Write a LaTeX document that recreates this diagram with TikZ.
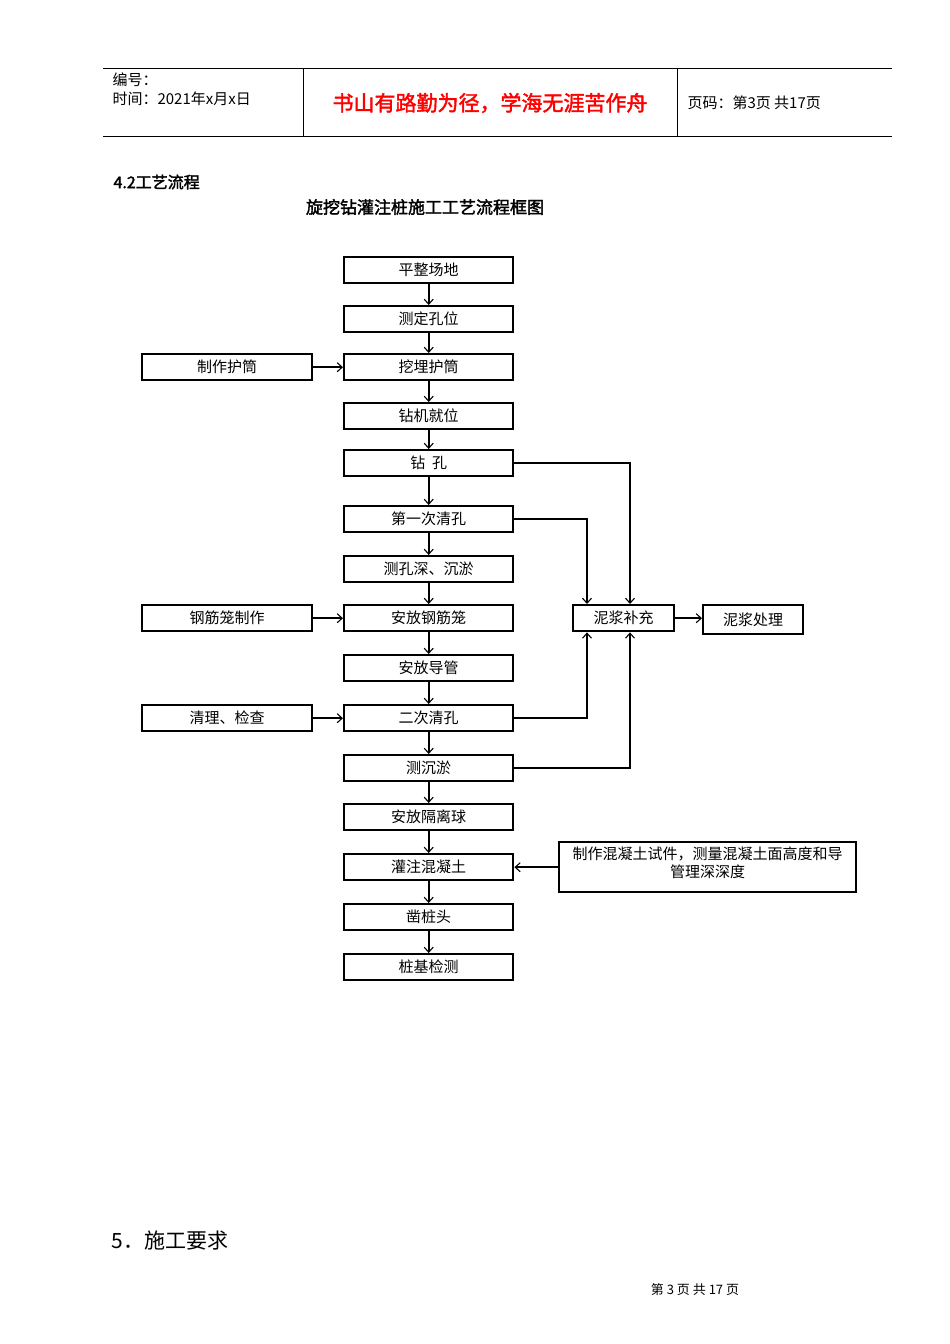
\documentclass[tikz,border=0pt]{standalone}
\usepackage{fontspec}
\setmainfont{Liberation Sans}
\newfontfamily\cjk{Noto Sans CJK SC}
\newfontfamily\cjkb{Noto Sans CJK SC}[FakeBold=2]
\usetikzlibrary{arrows.meta}
\begin{document}
\begin{tikzpicture}[x=1pt,y=-1pt,
  box/.style={draw,line width=2.4pt,minimum height=26pt,inner sep=0pt,font=\cjk\fontsize{15}{16}\selectfont,anchor=north west},
  mainbox/.style={box,minimum width=169pt},
  sidebox/.style={box,minimum width=170pt},
  arr/.style={line width=2.2pt,-{Straight Barb[length=5pt,width=9pt,line width=1.1pt]}}]
\useasboundingbox (0,0) rectangle (950,1344);
% header
\draw[line width=0.8pt] (103,68) -- (892,68) (103,136) -- (892,136) (303,68) -- (303,136) (677,68) -- (677,136);
\node[anchor=west,font=\cjk\fontsize{15}{17}\selectfont] at (109,80) {编号：};
\node[anchor=west,font=\cjk\fontsize{15}{17}\selectfont] at (109,99) {时间：2021年x月x日};
\node[font=\cjkb\fontsize{21}{23}\selectfont,text=red] at (490,103) {书山有路勤为径，学海无涯苦作舟};
\node[anchor=west,font=\cjk\fontsize{15}{17}\selectfont] at (684,103) {页码：第3页 共17页};
\node[anchor=west,font=\cjkb\fontsize{16}{18}\selectfont] at (110,182) {4.2工艺流程};
\node[font=\cjkb\fontsize{17}{19}\selectfont] at (425,207) {旋挖钻灌注桩施工工艺流程框图};
% main column
\node[mainbox] (a1) at (343,256) {平整场地};
\node[mainbox] (a2) at (343,305) {测定孔位};
\node[mainbox] (a3) at (343,353) {挖埋护筒};
\node[mainbox] (a4) at (343,402) {钻机就位};
\node[mainbox] (a5) at (343,449) {钻\ \ 孔};
\node[mainbox] (a6) at (343,505) {第一次清孔};
\node[mainbox] (a7) at (343,555) {测孔深、沉淤};
\node[mainbox] (a8) at (343,604) {安放钢筋笼};
\node[mainbox] (a9) at (343,654) {安放导管};
\node[mainbox] (a10) at (343,704) {二次清孔};
\node[mainbox] (a11) at (343,754) {测沉淤};
\node[mainbox] (a12) at (343,803) {安放隔离球};
\node[mainbox] (a13) at (343,853) {灌注混凝土};
\node[mainbox] (a14) at (343,903) {凿桩头};
\node[mainbox] (a15) at (343,953) {桩基检测};
\foreach \i [evaluate=\i as \j using int(\i+1)] in {1,...,14}
  \draw[arr] (a\i.south) -- (a\j.north);
% side boxes
\node[sidebox] (b1) at (141,353) {制作护筒};
\node[sidebox] (b2) at (141,604) {钢筋笼制作};
\node[sidebox] (b3) at (141,704) {清理、检查};
\draw[arr] (b1) -- (a3);
\draw[arr] (b2) -- (a8);
\draw[arr] (b3) -- (a10);
% mud
\node[box,minimum width=101pt] (m1) at (572,604) {泥浆补充};
\node[box,minimum width=100pt,minimum height=29pt] (m2) at (702,604) {泥浆处理};
\draw[arr] (m1) -- (m1 -| m2.west);
\coordinate (p1) at (630,630);
\coordinate (p2) at (587,630);
\draw[arr] (a5.east) -- (a5.east -| p1) -- (p1 |- m1.north);
\draw[arr] (a6.east) -- (a6.east -| p2) -- (p2 |- m1.north);
\draw[arr] (a10.east) -- (a10.east -| p2) -- (p2 |- m1.south);
\draw[arr] (a11.east) -- (a11.east -| p1) -- (p1 |- m1.south);
% concrete
\node[box,minimum width=297pt,minimum height=50pt,align=center,font=\cjk\fontsize{15}{18}\selectfont] (c1) at (558,841) {制作混凝土试件，测量混凝土面高度和导\\管理深深度\\[-8pt]};
\draw[arr] (c1.west |- a13.east) -- (a13.east);
% bottom
\node[anchor=west,font=\cjk\fontsize{21}{23}\selectfont] at (108,1241) {5．施工要求};
\node[font=\cjk\fontsize{13}{15}\selectfont] at (695,1290) {第 3 页 共 17 页};
\end{tikzpicture}
\end{document}
